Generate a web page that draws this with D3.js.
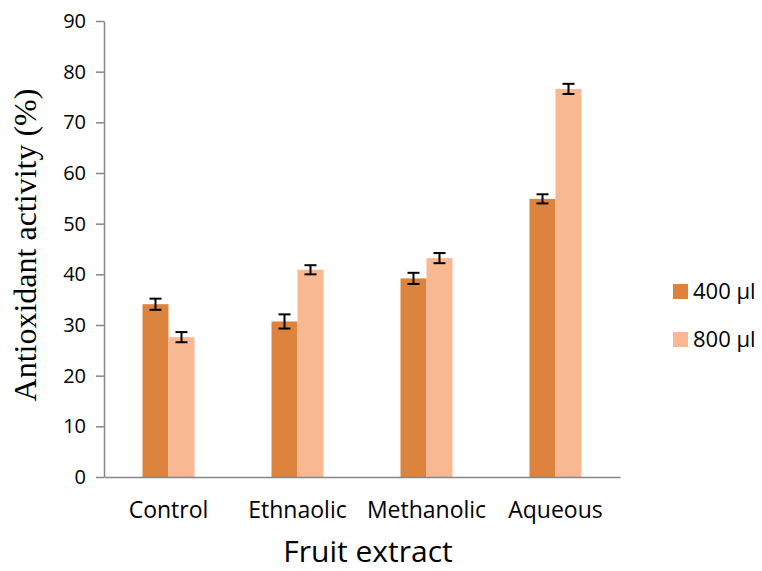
<!DOCTYPE html>
<html><head><meta charset="utf-8">
<script src="https://cdn.jsdelivr.net/npm/d3@7"></script>
<style>body{margin:0;background:#fff}</style>
</head><body>
<svg id="c" width="762" height="571"></svg>
<script>
const categories = ["Control", "Ethnaolic", "Methanolic", "Aqueous"];
const seriesNames = ["400 µl", "800 µl"];
const values400 = [34.1, 30.7, 39.2, 54.9];
const values800 = [27.6, 40.9, 43.2, 76.6];
const errors400 = [1.1, 1.4, 1.1, 0.9];
const errors800 = [1.0, 0.9, 1.0, 1.0];
const yTicks = [0, 10, 20, 30, 40, 50, 60, 70, 80, 90];
const colors = ["#DC843E", "#F8B891"];

(function () {
const svg = d3.select("#c");
const mLeft = 104, mRight = 620, mTop = 21, mBottom = 477;
const x = d3.scaleBand().domain(categories).range([mLeft, mRight]).paddingInner(0).paddingOuter(0);
const xs = d3.scaleBand().domain(seriesNames).range([0, x.bandwidth()]).paddingInner(0).paddingOuter(0.5 * (x.bandwidth() - 52) / 26);
const y = d3.scaleLinear().domain([0, 90]).range([mBottom, mTop]);
const font = "'Open Sans', sans-serif";

const data = categories.map((c, i) => ({c, vals: [
  {s: seriesNames[0], v: values400[i], e: errors400[i], col: colors[0]},
  {s: seriesNames[1], v: values800[i], e: errors800[i], col: colors[1]}]}));

// y axis
const yAxis = svg.append("g").attr("transform", `translate(${mLeft},0)`)
  .call(d3.axisLeft(y).tickValues(yTicks).tickSize(8).tickSizeOuter(0).tickPadding(10));
yAxis.select(".domain").attr("stroke", "#868686").attr("stroke-width", 1.5);
yAxis.selectAll(".tick line").attr("stroke", "#868686").attr("stroke-width", 1.5);
yAxis.selectAll(".tick text").attr("font-family", font).attr("font-size", 20).attr("fill", "#000");

// bars
const g = svg.append("g").selectAll("g").data(data).join("g")
  .attr("transform", d => `translate(${x(d.c)},0)`);
g.selectAll("rect").data(d => d.vals).join("rect")
  .attr("x", d => xs(d.s)).attr("width", xs.bandwidth())
  .attr("y", d => y(d.v)).attr("height", d => y(0) - y(d.v)).attr("fill", d => d.col);

// error bars
const eb = g.selectAll("g.err").data(d => d.vals).join("g").attr("class", "err")
  .attr("stroke", "#000").attr("stroke-width", 2);
const cx = d => xs(d.s) + xs.bandwidth() / 2;
eb.append("line").attr("x1", cx).attr("x2", cx)
  .attr("y1", d => y(d.v + d.e)).attr("y2", d => y(d.v - d.e));
eb.append("line").attr("x1", d => cx(d) - 6).attr("x2", d => cx(d) + 6)
  .attr("y1", d => y(d.v + d.e)).attr("y2", d => y(d.v + d.e));
eb.append("line").attr("x1", d => cx(d) - 6).attr("x2", d => cx(d) + 6)
  .attr("y1", d => y(d.v - d.e)).attr("y2", d => y(d.v - d.e));

// x axis
const xAxis = svg.append("g").attr("transform", `translate(0,${mBottom})`)
  .call(d3.axisBottom(x).tickSize(0).tickPadding(25));
xAxis.select(".domain").attr("stroke", "#868686").attr("stroke-width", 1.5);
xAxis.selectAll(".tick text").attr("font-family", font).attr("font-size", 23).attr("fill", "#000");

// titles
svg.append("text").attr("x", 368).attr("y", 562).attr("text-anchor", "middle")
  .attr("font-family", font).attr("font-size", 30).text("Fruit extract");
svg.append("text").attr("transform", "translate(36,245) rotate(-90)").attr("text-anchor", "middle")
  .attr("font-family", "'Liberation Serif', 'Times New Roman', serif").attr("font-size", 32).text("Antioxidant activity (%)");

// legend
const lg = svg.append("g").selectAll("g").data(seriesNames).join("g")
  .attr("transform", (d, i) => `translate(673,${284 + i * 48})`);
lg.append("rect").attr("width", 15).attr("height", 15).attr("fill", (d, i) => colors[i]);
lg.append("text").attr("x", 20).attr("y", 7.5).attr("dy", "0.35em")
  .attr("font-family", font).attr("font-size", 22).text(d => d);
})();
</script>
</body></html>
